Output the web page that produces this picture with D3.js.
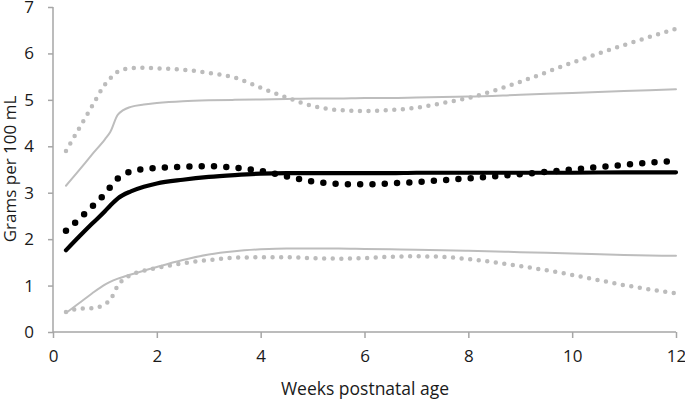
<!DOCTYPE html>
<html><head><meta charset="utf-8">
<script src="https://cdn.jsdelivr.net/npm/d3@7"></script>
<style>body{margin:0;background:#fff}svg{display:block}text{font-family:"Open Sans",sans-serif;fill:#1a1a1a}</style>
</head><body><svg id="c" width="685" height="400"></svg>
<script>
const weeks = [0.25,0.5,0.75,1.0,1.1,1.25,1.5,1.75,2,2.5,3,3.5,4,4.5,5,5.5,6,6.5,7,7.5,8,9,10,11,12];
const upperSolid = [3.15,3.48,3.82,4.15,4.3,4.68,4.85,4.9,4.93,4.97,4.99,5.0,5.01,5.02,5.03,5.03,5.04,5.04,5.05,5.06,5.07,5.11,5.15,5.19,5.23];
const upperDotted = [3.9,4.38,4.86,5.33,5.46,5.61,5.68,5.69,5.68,5.65,5.58,5.48,5.26,5.05,4.87,4.78,4.76,4.78,4.83,4.93,5.04,5.39,5.8,6.18,6.53];
const meanSolid = [1.76,2.05,2.33,2.6,2.72,2.88,3.03,3.13,3.2,3.28,3.34,3.38,3.41,3.42,3.42,3.42,3.42,3.42,3.43,3.43,3.43,3.43,3.43,3.44,3.44];
const meanDotted = [2.18,2.43,2.7,2.98,3.12,3.31,3.46,3.51,3.53,3.56,3.57,3.54,3.47,3.35,3.24,3.19,3.18,3.2,3.23,3.27,3.31,3.4,3.5,3.6,3.69];
const lowerSolid = [0.41,0.62,0.83,1.02,1.08,1.15,1.24,1.32,1.4,1.55,1.67,1.74,1.78,1.8,1.8,1.8,1.79,1.78,1.77,1.76,1.75,1.72,1.69,1.66,1.64];
const lowerDotted = [0.43,0.5,0.51,0.6,0.69,1.0,1.23,1.32,1.38,1.48,1.55,1.6,1.61,1.61,1.59,1.58,1.59,1.62,1.63,1.62,1.57,1.42,1.23,1.01,0.83];
const xTicks = [0,2,4,6,8,10,12];
const yTicks = [0,1,2,3,4,5,6,7];
const xTitle = "Weeks postnatal age";
const yTitle = "Grams per 100 mL";

const svg = d3.select("#c");
const x = d3.scaleLinear().domain([0,12]).range([53,676]);
const y = d3.scaleLinear().domain([0,7]).range([332,7]);
const axisColor = "#a6a6a6";

const gx = svg.append("g").attr("transform","translate(0,332)")
  .call(d3.axisBottom(x).tickValues(xTicks).tickSize(6).tickPadding(12).tickFormat(d3.format("d")));
const gy = svg.append("g").attr("transform","translate(53,0)")
  .call(d3.axisLeft(y).tickValues(yTicks).tickSize(5).tickPadding(14).tickFormat(d3.format("d")));
[gx,gy].forEach(g=>{
  g.select(".domain").attr("stroke",axisColor).attr("stroke-width",1.5);
  g.selectAll(".tick line").attr("stroke",axisColor).attr("stroke-width",1.5);
  g.selectAll(".tick text").attr("font-size",17).attr("fill","#1a1a1a").attr("font-family","'Open Sans',sans-serif");
});
gy.select(".domain").attr("d","M0,332V7");
gx.select(".domain").attr("d","M0,0H623").attr("transform","translate(53,0)");

const line = d3.line().x(d=>x(d[0])).y(d=>y(d[1])).curve(d3.curveMonotoneX);
const series = [
  {v:upperSolid, color:"#bdbdbd", w:2, dash:null},
  {v:lowerSolid, color:"#bdbdbd", w:2, dash:null},
  {v:upperDotted, color:"#bcbcbc", w:4.5, dash:"0 8.6"},
  {v:lowerDotted, color:"#bcbcbc", w:4.5, dash:"0 8.6"},
  {v:meanSolid, color:"#000", w:4.2, dash:null},
  {v:meanDotted, color:"#000", w:6.5, dash:"0 12.3"}
];
series.forEach(s=>{
  svg.append("path").datum(weeks.map((w,i)=>[w,s.v[i]]))
    .attr("d",line).attr("fill","none").attr("stroke",s.color)
    .attr("stroke-width",s.w).attr("stroke-linecap","round")
    .attr("stroke-dasharray",s.dash);
});

svg.append("text").attr("x",365).attr("y",395).attr("text-anchor","middle").attr("font-size",17.5).text(xTitle);
svg.append("text").attr("transform","translate(16,169) rotate(-90)").attr("text-anchor","middle").attr("font-size",17).text(yTitle);
</script></body></html>
